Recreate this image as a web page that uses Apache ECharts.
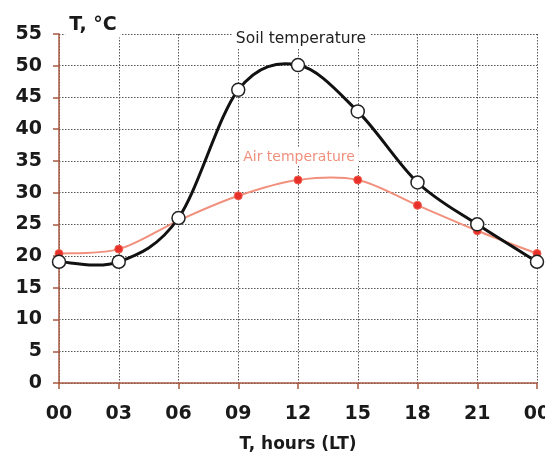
<!DOCTYPE html>
<html><head><meta charset="utf-8">
<script src="https://cdn.jsdelivr.net/npm/echarts@6/dist/echarts.min.js"></script>
<style>html,body{margin:0;padding:0;background:#fff}#c{width:545px;height:457px}</style>
</head><body><div id="c"></div>
<script>
const hours = [0, 3, 6, 9, 12, 15, 18, 21, 24];
const tickLabels = ['00', '03', '06', '09', '12', '15', '18', '21', '00'];
const soilTemp = [19.1, 19.1, 26.0, 46.2, 50.1, 42.8, 31.6, 25.0, 19.1];
const airTemp = [20.4, 21.1, 25.6, 29.5, 32.0, 32.0, 28.0, 24.0, 20.4];

const chart = echarts.init(document.getElementById('c'));
const axisColor = '#a85a40';
const font = '"DejaVu Sans", sans-serif';

// Smooth curve (Catmull-Rom style, like spreadsheet smoothing): each data item draws
// the segment to the next point, using the library's coordinate conversion.
function smoothRenderer(values, color, width) {
  return function (params, api) {
    const i = params.dataIndex;
    const n = values.length;
    if (i >= n - 1) return null;
    const P = (j) => api.coord([hours[Math.max(0, Math.min(n - 1, j))], values[Math.max(0, Math.min(n - 1, j))]]);
    const p0 = P(i - 1), p1 = P(i), p2 = P(i + 1), p3 = P(i + 2);
    const t = 1 / 6;
    return {
      type: 'bezierCurve',
      shape: {
        x1: p1[0], y1: p1[1], x2: p2[0], y2: p2[1],
        cpx1: p1[0] + (p2[0] - p0[0]) * t, cpy1: p1[1] + (p2[1] - p0[1]) * t,
        cpx2: p2[0] - (p3[0] - p1[0]) * t, cpy2: p2[1] - (p3[1] - p1[1]) * t
      },
      style: { stroke: color, lineWidth: width, fill: null, lineCap: 'round' }
    };
  };
}

chart.setOption({
  backgroundColor: '#fff',
  animation: false,
  grid: { left: 59, right: 8, top: 34, bottom: 74, outerBoundsMode: 'none', containLabel: false },
  xAxis: {
    type: 'value', min: 0, max: 24, interval: 3,
    axisLine: { show: true, lineStyle: { color: axisColor, width: 1.5 } },
    axisTick: { show: true, length: 6, lineStyle: { color: axisColor, width: 1.5 } },
    axisLabel: {
      margin: 22, color: '#1a1a1a', fontSize: 19, fontWeight: 'bold', fontFamily: font,
      formatter: (v) => tickLabels[hours.indexOf(v)]
    },
    splitLine: { show: true, lineStyle: { color: '#555', type: [1.5, 1.5], width: 1 } },
    name: 'T, hours (LT)', nameLocation: 'middle', nameGap: 53,
    nameTextStyle: { color: '#1a1a1a', fontSize: 17, fontWeight: 'bold', fontFamily: font }
  },
  yAxis: {
    type: 'value', min: 0, max: 55, interval: 5,
    axisLine: { show: true, lineStyle: { color: axisColor, width: 1.5 } },
    axisTick: { show: true, length: 6, lineStyle: { color: axisColor, width: 1.5 } },
    axisLabel: { margin: 17, color: '#1a1a1a', fontSize: 19, fontWeight: 'bold', fontFamily: font },
    splitLine: { show: true, lineStyle: { color: '#555', type: [1.5, 1.5], width: 1 } }
  },
  graphic: [
    { type: 'text', z: 100,
      style: { x: 93, y: 25, align: 'center', verticalAlign: 'middle', text: 'T, °C', fill: '#1a1a1a',
               font: 'bold 19px ' + font, backgroundColor: '#fff', padding: [3, 4] } },
    { type: 'text', z: 100,
      style: { x: 301, y: 39, align: 'center', verticalAlign: 'middle', text: 'Soil temperature', fill: '#222',
               font: '15.5px ' + font, backgroundColor: '#fff', padding: [2, 4] } },
    { type: 'text', z: 100,
      style: { x: 299, y: 157, align: 'center', verticalAlign: 'middle', text: 'Air temperature', fill: '#f0907e',
               font: '14px ' + font, backgroundColor: '#fff', padding: [2, 4] } }
  ],
  series: [
    {
      name: 'Air temperature line', type: 'custom', z: 3,
      data: hours.map((h, i) => [h, airTemp[i]]),
      renderItem: smoothRenderer(airTemp, '#f2907e', 2)
    },
    {
      name: 'Soil temperature line', type: 'custom', z: 4,
      data: hours.map((h, i) => [h, soilTemp[i]]),
      renderItem: smoothRenderer(soilTemp, '#111', 3)
    },
    {
      name: 'Air temperature', type: 'scatter', z: 5,
      data: hours.map((h, i) => [h, airTemp[i]]),
      symbol: 'circle', symbolSize: 8,
      itemStyle: { color: '#e8302a', borderColor: '#f06050', borderWidth: 1, opacity: 1 }
    },
    {
      name: 'Soil temperature', type: 'scatter', z: 6,
      data: hours.map((h, i) => [h, soilTemp[i]]),
      symbol: 'circle', symbolSize: 13,
      itemStyle: { color: '#fff', borderColor: '#222', borderWidth: 1.5, opacity: 1 }
    }
  ]
});
</script></body></html>
